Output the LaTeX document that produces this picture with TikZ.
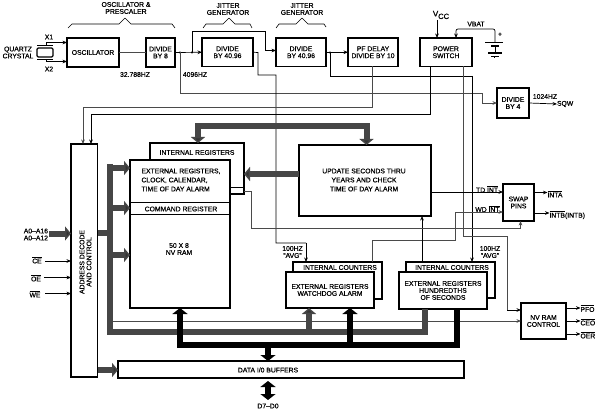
\documentclass[tikz,border=0pt]{standalone}
\usepackage{fontspec}
\setmainfont{Liberation Sans}[FakeBold=0.6]
\usetikzlibrary{arrows.meta}
\newcommand\ol[1]{$\overline{\hbox{#1}}$}
\definecolor{busgray}{HTML}{464646}
\definecolor{linegray}{HTML}{4a4a4a}
\tikzset{
 bx/.style={draw=black,fill=white,line width=1.3pt,anchor=north west,inner sep=0pt,outer sep=0pt,align=center,font=\fontsize{6.8}{7}\selectfont},
 lbl/.style={inner sep=0pt,outer sep=0pt,align=center,font=\fontsize{6.8}{7}\selectfont},
 wire/.style={draw=black,line width=.7pt},
 gwire/.style={draw=linegray,line width=.8pt},
 tip/.style={-{Stealth[length=4.5pt,width=3.6pt]}},
 gbus/.style={draw=busgray,line width=6pt,line join=miter},
 bbus/.style={draw=black,line width=6pt,line join=miter},
 gfat/.style={draw=busgray,line width=6pt,-{Triangle[length=6pt,width=14pt,fill=black!80]}},
 bfat/.style={draw=black,line width=6pt,-{Triangle[length=6pt,width=15pt]}},
 brace/.style={draw=black,line width=.6pt,line join=round},
 dot/.style={circle,fill=black,inner sep=0pt,minimum size=2.4pt}
}
\begin{document}
\begin{tikzpicture}[x=1pt,y=-1pt]
\fill[white] (0,0) rectangle (598,412);
\useasboundingbox (0,0) rectangle (598,412);

\node[bx,minimum width=52pt,minimum height=29pt] (osc) at (67,38) {OSCILLATOR};
\node[bx,minimum width=29pt,minimum height=29pt] (div8) at (146,38) {DIVIDE\\BY 8};
\node[bx,minimum width=51pt,minimum height=28.5pt] (jita) at (202,38) {DIVIDE\\BY 40.96};
\node[bx,minimum width=50pt,minimum height=28.5pt] (jitb) at (276,38) {DIVIDE\\BY 40.96};
\node[bx,minimum width=50pt,minimum height=28.5pt] (pf) at (348,38) {PF DELAY\\DIVIDE BY 10};
\node[bx,minimum width=52pt,minimum height=28.5pt] (ps) at (420,38) {POWER\\SWITCH};
\node[bx,minimum width=32pt,minimum height=30pt] (div4) at (497,88) {DIVIDE\\BY 4};
\node[bx,minimum width=26.5pt,minimum height=233pt] (addr) at (71,144) {};
\node[lbl,rotate=90] (addrt) at (85.5,262) {ADDRESS DECODE\\AND CONTROL};
\node[bx,minimum width=94pt,minimum height=51pt] (intr) at (150,143) {};
\node[lbl] (intrt) at (197,152.5) {INTERNAL REGISTERS};
\node[bx,minimum width=100pt,minimum height=148pt] (ext) at (130,160) {};
\node[bx,minimum width=132pt,minimum height=71pt] (upd) at (299,145) {};
\node[bx,minimum width=89pt,minimum height=37pt] (wint) at (293,262) {};
\node[bx,minimum width=88pt,minimum height=36pt] (wext) at (286,272) {EXTERNAL REGISTERS\\WATCHDOG ALARM};
\node[bx,minimum width=89pt,minimum height=36pt] (hint) at (406,262) {};
\node[bx,minimum width=88pt,minimum height=37pt] (hext) at (399,272) {EXTERNAL REGISTERS\\HUNDREDTHS\\OF SECONDS};
\node[lbl] (wintt) at (340,267.5) {INTERNAL COUNTERS};
\node[lbl] (hintt) at (452,267.5) {INTERNAL COUNTERS};
\node[bx,minimum width=31pt,minimum height=37pt] (swap) at (503,184) {SWAP\\PINS};
\node[bx,minimum width=45pt,minimum height=36pt] (nvc) at (521,303) {NV RAM\\CONTROL};
\node[bx,minimum width=346pt,minimum height=17pt] (data) at (118,361) {};
\node[lbl] (datat) at (268,370) {DATA I/0 BUFFERS};

\draw[line width=1pt] (ext.west |- 0,202) -- (ext.east |- 0,202);
\draw[line width=.7pt] (ext.west |- 0,214) -- (ext.east |- 0,214);
\draw[line width=.7pt] (ext.east |- 0,187) -- (intr.east |- 0,187);
\node[lbl,align=left,anchor=west,font=\fontsize{6.8}{9}\selectfont] (extt) at (141.5,180) {EXTERNAL REGISTERS,\\CLOCK, CALENDAR,\\TIME OF DAY ALARM};
\node[lbl] (cmdt) at (181,209) {COMMAND REGISTER};
\node[lbl] (nvt) at (179,249) {50 X 8\\NV RAM};
\node[lbl,font=\fontsize{6.8}{9}\selectfont] (updt) at (364,180) {UPDATE SECONDS THRU\\YEARS AND CHECK\\TIME OF DAY ALARM};

\coordinate (x1a) at (46,45.5);
\coordinate (x2a) at (46,59.5);
\node[draw,line width=1.3pt,rounded corners=1.2pt,minimum width=16pt,minimum height=9pt,inner sep=0pt] (xtal) at (45,52.5) {};
\draw[line width=1.1pt] (37,45.5) -- (53,45.5);
\draw[line width=1.1pt] (37,59.5) -- (53,59.5);
\draw[wire,tip] (x1a) -- (46,42.5) -- (osc.west |- 0,42.5);
\draw[wire,tip] (x2a) -- (46,61.5) -- (osc.west |- 0,61.5);
\node[lbl] (qc) at (18,52.5) {QUARTZ\\CRYSTAL};
\node[lbl] (x1) at (49,37) {X1};
\node[lbl] (x2) at (49,69) {X2};

\draw[gwire] (osc.east) -- (div8.west);
\coordinate (j1) at (180,52.5);
\coordinate (j2) at (192,52.5);
\coordinate (j3) at (330,52.5);
\draw[wire,tip] (div8.east) -- (jita.west);
\node[dot] at (j1) {};
\node[dot] at (j2) {};
\node[dot] at (j3) {};
\draw[wire,tip] (j2) -- (192,31) -- (265,31) -- (265,50.5) -- (jitb.west |- 0,50.5);
\draw[gwire,tip] (j1) -- (180,93) -- (482,93) -- (482,103) -- (div4.west);
\draw[wire] (jita.east) -- (258,52.5) -- (258,75) -- (276,75) -- (276,243) -- (306,243);
\draw[wire,tip] (306,243) -- (wint.north -| 306,0);
\draw[wire,tip] (jitb.east) -- (pf.west);
\draw[wire] (j3) -- (330,76) -- (472,76);
\draw[wire,tip] (472,76) -- (hint.north -| 472,0);
\draw[gwire,tip] (pf.south -| 372,0) -- (372,107) -- (83,107) -- (addr.north -| 83,0);
\draw[wire,tip] (ps.south -| 430,0) -- (430,114) -- (91,114) -- (addr.north -| 91,0);
\draw[gwire] (ps.south -| 463,0) -- (463,236) -- (507,236) -- (507,310);
\draw[wire,tip] (507,310) -- (nvc.west |- 0,310);

\coordinate (vcc) at (437,20);
\node[lbl,font=\fontsize{8}{8}\selectfont] (vcct) at (441,15) {V\raisebox{-2.5pt}{\fontsize{7.5}{8}\selectfont CC}};
\draw[wire,tip] (vcc) -- (ps.north -| 437,0);
\coordinate (bt) at (495,42.5);
\draw[wire,tip,rounded corners=2pt] (bt) -- (495,29) -- (456,29) -- (ps.north -| 456,0);
\node[lbl] (vbat) at (476,24) {VBAT};
\node[lbl] (plus) at (500,34.5) {+};
\draw[line width=1.1pt] (485,42.5) -- (503,42.5);
\draw[line width=1.5pt] (491,46) -- (499,46);
\draw[wire] (495,46) -- (495,53);
\draw[line width=1.1pt] (488,53) -- (502,53);
\draw[line width=1.4pt] (491,56.5) -- (499,56.5);
\draw[wire] (494.5,56.5) -- (494.5,58.5);

\node[lbl,anchor=west] (sqw) at (557,104) {SQW};
\node[lbl] (hz1024) at (545,96.5) {1024HZ};
\draw[wire,tip] (div4.east) -- (sqw.west);

\node[lbl] (f32) at (135,74.5) {32.788HZ};
\node[lbl] (f40) at (195,74.5) {4096HZ};
\node[lbl] (av1) at (292.5,252) {100HZ\\``AVG''};
\node[lbl] (av2) at (490,252) {100HZ\\``AVG''};

\draw[wire,tip] (upd.east |- 0,192) -- (swap.west |- 0,192);
\draw[gwire,tip] (wint.north -| 372,0) -- (372,240) -- (455,240) -- (455,212) -- (swap.west |- 0,212);
\draw[wire,tip] (hint.north -| 422,0) -- (upd.south -| 422,0);
\draw[gwire,tip] (intr.east |- 0,191) -- (251,191) -- (251,228.5) -- (520.5,228.5) -- (swap.south -| 520.5,0);
\node[lbl,anchor=east] (td) at (498,189) {TD \ol{INT}};
\node[lbl,anchor=east] (wd) at (499.5,208.5) {WD \ol{INT}};
\node[lbl,anchor=west] (inta) at (547.5,194) {\ol{INTA}};
\node[lbl,anchor=west] (intb) at (549.5,215) {\ol{INTB}(INTB)};
\draw[wire,tip] (swap.east |- 0,192.5) -- (inta.west |- 0,192.5);
\draw[wire,tip] (swap.east |- 0,213) -- (intb.west |- 0,213);

\node[lbl,anchor=east] (a16) at (48,231) {A0--A16};
\node[lbl,anchor=east] (a12) at (48,238) {A0--A12};
\node[lbl] (ce) at (37,260) {\ol{CE}};
\node[lbl] (oe) at (36,278) {\ol{OE}};
\node[lbl] (we) at (35,294) {\ol{WE}};
\draw[wire,tip] (45,261) -- (addr.west |- 0,261);
\draw[wire,tip] (44,277.5) -- (addr.west |- 0,277.5);
\draw[wire,tip] (45,293.5) -- (addr.west |- 0,293.5);
\draw[gfat] (49,233.5) -- (addr.west |- 0,233.5);

\draw[gwire,tip] (112,321) -- (nvc.west |- 0,321);
\draw[gbus] (110,164) -- (110,331.5) -- (425,331.5) -- (hext.south -| 425,0);
\draw[gbus] (addr.east |- 0,232.5) -- (108,232.5);
\draw[gfat] (112,168) -- (ext.west |- 0,168);
\draw[gfat] (112,208) -- (ext.west |- 0,208);
\draw[gfat] (112,255) -- (ext.west |- 0,255);
\draw[gfat] (309,330) -- (wext.south -| 309,0);
\draw[gfat] (addr.east |- 0,370) -- (data.west |- 0,370);
\draw[gfat] (198,126) -- (intr.north -| 198,0);
\draw[gbus] (195,126) -- (369.5,126);
\draw[gfat] (366.5,123.5) -- (upd.north -| 366.5,0);
\draw[gfat] (upd.west |- 0,174) -- (intr.east |- 0,174);

\draw[bbus] (hext.south -| 457,0) -- (457,345) -- (180,345) -- (180,320);
\draw[bfat] (180,345) -- (ext.south -| 180,0);
\draw[bfat] (350,345) -- (wext.south -| 350,0);
\draw[bfat] (268,345) -- (data.north -| 268,0);
\coordinate (dd) at (268,400);
\draw[draw=black,line width=6pt,{Triangle[length=6pt,width=15pt]}-{Triangle[length=6pt,width=15pt]}] (data.south -| 268,0) ++(0,3) -- (dd);
\node[lbl] (d70) at (268,406) {D7--D0};

\node[lbl,anchor=west] (pfo) at (580.5,308.5) {\ol{PFO}};
\node[lbl,anchor=west] (ceo) at (580.5,322) {\ol{CEO}};
\node[lbl,anchor=west] (oer) at (580.5,335) {\ol{OER}};
\draw[wire,tip] (nvc.east |- 0,308) -- (pfo.west |- 0,308);
\draw[wire,tip] (nvc.east |- 0,321) -- (ceo.west |- 0,321);
\draw[wire,tip] (nvc.east |- 0,334) -- (oer.west |- 0,334);

\draw[brace] (osc.north west) ++(1,-10) -- (72,24) -- (119,24) -- (125,18) -- (131,24) -- (172,24) -- (175,28);
\draw[brace] (jita.north west) ++(1,-10) -- (206,24) -- (223,24) -- (229,18) -- (235,24) -- (250,24) -- (252,28);
\draw[brace] (jitb.north west) ++(0,-10) -- (279,24) -- (296,24) -- (302,18) -- (308,24) -- (324,24) -- (326,27);
\node[lbl] (t1) at (126,8) {OSCILLATOR \&\\PRESCALER};
\node[lbl] (t2) at (228,9) {JITTER\\GENERATOR};
\node[lbl] (t3) at (302,9) {JITTER\\GENERATOR};
\end{tikzpicture}
\end{document}
